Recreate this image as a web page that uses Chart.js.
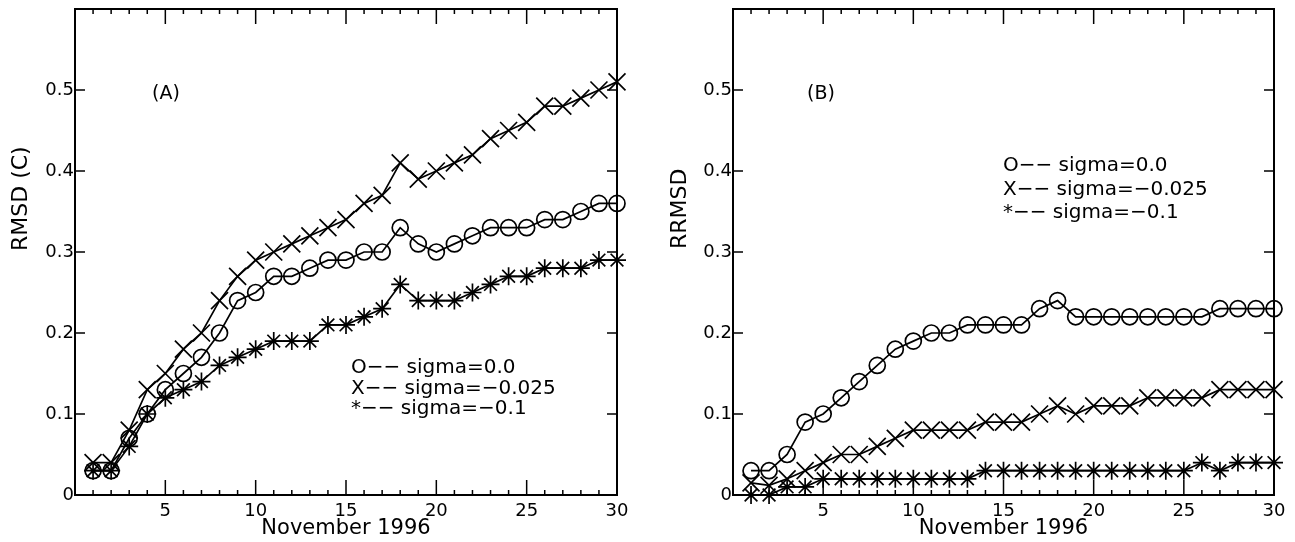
<!DOCTYPE html>
<html>
<head>
<meta charset="utf-8">
<script src="https://cdn.jsdelivr.net/npm/chart.js@4.4.0/dist/chart.umd.min.js"></script>
<style>
    body { margin: 0; background: #fff; }
    .panel { position: absolute; top: 0; height: 542px; }
    #panelA { left: 0; width: 650px; }
    #panelB { left: 640px; width: 655px; }
</style>
</head>
<body>
<div class="panel" id="panelA"><canvas id="chartA"></canvas></div>
<div class="panel" id="panelB"><canvas id="chartB"></canvas></div>
<script>
// ============================================================================
// RMSD / RRMSD - November 1996
// ============================================================================

const days = [1, 2, 3, 4, 5, 6, 7, 8, 9, 10, 11, 12, 13, 14, 15, 16, 17, 18, 19, 20, 21, 22, 23, 24, 25, 26, 27, 28, 29, 30];
const xTicks = [0, 5, 10, 15, 20, 25, 30];
const yTicks = [0, 0.1, 0.2, 0.3, 0.4, 0.5, 0.6];

// (A) RMSD (C)
const rmsdSigma0 = [0.03, 0.03, 0.07, 0.10, 0.13, 0.15, 0.17, 0.20, 0.24, 0.25, 0.27, 0.27, 0.28, 0.29, 0.29, 0.30, 0.30, 0.33, 0.31, 0.30, 0.31, 0.32, 0.33, 0.33, 0.33, 0.34, 0.34, 0.35, 0.36, 0.36];
const rmsdSigma025 = [0.04, 0.04, 0.08, 0.13, 0.15, 0.18, 0.20, 0.24, 0.27, 0.29, 0.30, 0.31, 0.32, 0.33, 0.34, 0.36, 0.37, 0.41, 0.39, 0.40, 0.41, 0.42, 0.44, 0.45, 0.46, 0.48, 0.48, 0.49, 0.50, 0.51];
const rmsdSigma1 = [0.03, 0.03, 0.06, 0.10, 0.12, 0.13, 0.14, 0.16, 0.17, 0.18, 0.19, 0.19, 0.19, 0.21, 0.21, 0.22, 0.23, 0.26, 0.24, 0.24, 0.24, 0.25, 0.26, 0.27, 0.27, 0.28, 0.28, 0.28, 0.29, 0.29];

// (B) RRMSD
const rrmsdSigma0 = [0.03, 0.03, 0.05, 0.09, 0.10, 0.12, 0.14, 0.16, 0.18, 0.19, 0.20, 0.20, 0.21, 0.21, 0.21, 0.21, 0.23, 0.24, 0.22, 0.22, 0.22, 0.22, 0.22, 0.22, 0.22, 0.22, 0.23, 0.23, 0.23, 0.23];
const rrmsdSigma025 = [0.015, 0.012, 0.02, 0.03, 0.04, 0.05, 0.05, 0.06, 0.07, 0.08, 0.08, 0.08, 0.08, 0.09, 0.09, 0.09, 0.10, 0.11, 0.10, 0.11, 0.11, 0.11, 0.12, 0.12, 0.12, 0.12, 0.13, 0.13, 0.13, 0.13];
const rrmsdSigma1 = [0.00, 0.00, 0.01, 0.01, 0.02, 0.02, 0.02, 0.02, 0.02, 0.02, 0.02, 0.02, 0.02, 0.03, 0.03, 0.03, 0.03, 0.03, 0.03, 0.03, 0.03, 0.03, 0.03, 0.03, 0.03, 0.04, 0.03, 0.04, 0.04, 0.04];

const legendLines = ["O\u2212\u2212 sigma=0.0", "X\u2212\u2212 sigma=\u22120.025", "*\u2212\u2212 sigma=\u22120.1"];

const FONT = "'DejaVu Sans', sans-serif";

// moldura com ticks para dentro nos 4 lados + textos soltos
const frameTicks = {
    id: 'frameTicks',
    afterDraw(chart, args, opts) {
        const { ctx, chartArea: a, scales: { x, y } } = chart;
        ctx.save();
        ctx.strokeStyle = '#000';
        ctx.lineWidth = 2;
        ctx.strokeRect(a.left, a.top, a.right - a.left, a.bottom - a.top);

        ctx.lineWidth = 1.5;
        ctx.beginPath();
        days.forEach(d => {
            const px = x.getPixelForValue(d);
            const len = d % 5 === 0 ? 15 : 5;
            ctx.moveTo(px, a.top); ctx.lineTo(px, a.top + len);
            ctx.moveTo(px, a.bottom); ctx.lineTo(px, a.bottom - len);
        });
        yTicks.forEach(v => {
            const py = y.getPixelForValue(v);
            ctx.moveTo(a.left, py); ctx.lineTo(a.left + 10, py);
            ctx.moveTo(a.right, py); ctx.lineTo(a.right - 10, py);
        });
        ctx.stroke();

        ctx.fillStyle = '#000';
        ctx.textBaseline = 'alphabetic';
        ctx.textAlign = 'left';

        // rótulo do painel
        ctx.font = `19px ${FONT}`;
        ctx.fillText(opts.panel, opts.panelX, opts.panelY);

        // legenda em texto
        ctx.font = `20px ${FONT}`;
        legendLines.forEach((txt, i) => ctx.fillText(txt, opts.legX, opts.legY + i * opts.legStep));

        // título do eixo y
        ctx.save();
        ctx.translate(opts.yTitleX, opts.yTitleY);
        ctx.rotate(-Math.PI / 2);
        ctx.textBaseline = 'middle';
        ctx.font = `22px ${FONT}`;
        ctx.fillText(opts.yTitle, 0, 0);
        ctx.restore();

        ctx.restore();
    }
};

function makeSeries(values) {
    return days.map((d, i) => ({ x: d, y: values[i] }));
}

function buildChart(canvasId, series, axisWidth, padRight, notes) {
    const common = { borderColor: '#000', borderWidth: 1.7, tension: 0, pointBorderColor: '#000', pointBorderWidth: 1.7, pointBackgroundColor: 'rgba(0,0,0,0)', clip: false };
    return new Chart(document.getElementById(canvasId), {
        type: 'line',
        data: {
            datasets: [
                { ...common, label: 'sigma=0.0', data: makeSeries(series[0]), pointStyle: 'circle', pointRadius: 8 },
                { ...common, label: 'sigma=-0.025', data: makeSeries(series[1]), pointStyle: 'crossRot', pointRadius: 12 },
                { ...common, label: 'sigma=-0.1', data: makeSeries(series[2]), pointStyle: 'star', pointRadius: 9 }
            ]
        },
        options: {
            responsive: true,
            maintainAspectRatio: false,
            devicePixelRatio: 1,
            animation: false,
            events: [],
            layout: { autoPadding: false, padding: { top: 9, right: padRight, left: 0, bottom: 0 } },
            plugins: { legend: { display: false }, tooltip: { enabled: false }, frameTicks: notes },
            scales: {
                x: {
                    type: 'linear', min: xTicks[0], max: xTicks[xTicks.length - 1],
                    grid: { display: false, drawTicks: false }, border: { display: false },
                    afterBuildTicks: s => { s.ticks = xTicks.map(v => ({ value: v })); },
                    afterFit: s => { s.height = 47; s.paddingLeft = 0; s.paddingRight = 0; },
                    ticks: { padding: 7, maxRotation: 0, autoSkip: false, color: '#000', font: { family: FONT, size: 18, lineHeight: 1 }, callback: v => v === 0 ? '' : String(v) },
                    title: { display: true, text: 'November 1996', color: '#000', font: { family: FONT, size: 21, lineHeight: 1 }, padding: { top: 0, bottom: 3 } }
                },
                y: {
                    type: 'linear', min: yTicks[0], max: yTicks[yTicks.length - 1],
                    grid: { display: false, drawTicks: false }, border: { display: false },
                    afterBuildTicks: s => { s.ticks = yTicks.map(v => ({ value: v })); },
                    afterFit: s => { s.width = axisWidth; s.paddingTop = 0; s.paddingBottom = 0; },
                    ticks: { padding: 1, color: '#000', font: { family: FONT, size: 18, lineHeight: 1 }, callback: v => v >= 0.59 ? '' : (v === 0 ? '0' : v.toFixed(1)) }
                }
            }
        },
        plugins: [frameTicks]
    });
}

buildChart('chartA', [rmsdSigma0, rmsdSigma025, rmsdSigma1], 75, 33, {
    panel: '(A)', panelX: 152, panelY: 99,
    legX: 351, legY: 373, legStep: 20.5,
    yTitle: 'RMSD (C)', yTitleX: 21, yTitleY: 251
});

buildChart('chartB', [rrmsdSigma0, rrmsdSigma025, rrmsdSigma1], 93, 21, {
    panel: '(B)', panelX: 167, panelY: 99,
    legX: 363, legY: 171, legStep: 23.5,
    yTitle: 'RRMSD', yTitleX: 40, yTitleY: 249
});
</script>
</body>
</html>
